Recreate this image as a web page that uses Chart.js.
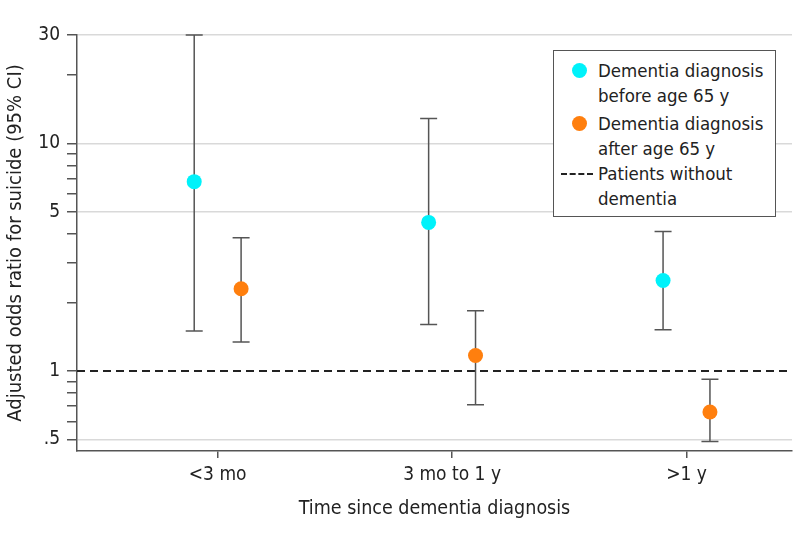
<!DOCTYPE html>
<html>
<head>
<meta charset="utf-8">
<script src="https://cdn.jsdelivr.net/npm/chart.js@4"></script>
<style>
  body { margin: 0; background: #fff; }
  #wrap { position: relative; width: 794px; height: 546px; }
  .legend {
    position: absolute; left: 553px; top: 50px; width: 223px; height: 167px;
    border: 1px solid #555; background: #fff; box-sizing: border-box;
    font-family: "DejaVu Sans Condensed", "Roboto", sans-serif;
    font-size: 18.5px; color: #222; line-height: 25px;
  }
  .item { position: absolute; left: 44px; }
  .dot { position: absolute; left: -26px; top: 5px; width: 15px; height: 15px; border-radius: 50%; }
  .dash { position: absolute; left: -37px; top: 12px; width: 32px; border-top: 2px dashed #222; }
</style>
</head>
<body>
<div id="wrap">
  <canvas id="chart" width="794" height="546"></canvas>
  <div class="legend">
    <div class="item" style="top:7px"><span class="dot" style="background:#00f2fa"></span>Dementia diagnosis<br>before age 65 y</div>
    <div class="item" style="top:60px"><span class="dot" style="background:#ff7f0e"></span>Dementia diagnosis<br>after age 65 y</div>
    <div class="item" style="top:110px"><span class="dash"></span>Patients without<br>dementia</div>
  </div>
</div>
<script>
const categories = ['<3 mo', '3 mo to 1 y', '>1 y']
const beforeOR = [6.8, 4.5, 2.5]
const beforeLow = [1.5, 1.6, 1.52]
const beforeHigh = [30, 12.9, 4.1]
const afterOR = [2.3, 1.17, 0.66]
const afterLow = [1.34, 0.71, 0.49]
const afterHigh = [3.85, 1.84, 0.92]
const yTicks = [0.5, 1, 5, 10, 30]
const yMinorTicks = [0.6, 0.7, 0.8, 0.9, 2, 3, 4, 6, 7, 8, 9, 20]
const gridValues = [0.5, 5, 10, 30]
const refValue = 1

const FONT = '"DejaVu Sans Condensed", "Roboto", sans-serif'
const offset = 0.1

const errorBars = {
    id: 'errorBars',
    beforeDatasetsDraw(chart) {
        const { ctx, chartArea, scales: { x, y } } = chart
        // reference line
        const yr = y.getPixelForValue(refValue)
        ctx.save()
        ctx.strokeStyle = '#222'
        ctx.lineWidth = 2
        ctx.setLineDash([8, 5])
        ctx.beginPath()
        ctx.moveTo(chartArea.left, yr)
        ctx.lineTo(chartArea.right, yr)
        ctx.stroke()
        ctx.setLineDash([])
        // whiskers
        const groups = [[beforeLow, beforeHigh, -offset], [afterLow, afterHigh, offset]]
        ctx.strokeStyle = '#555'
        ctx.lineWidth = 1.5
        groups.forEach(([lo, hi, dx]) => {
            categories.forEach((c, i) => {
                const px = x.getPixelForValue(i + dx)
                const p1 = y.getPixelForValue(lo[i])
                const p2 = y.getPixelForValue(hi[i])
                ctx.beginPath()
                ctx.moveTo(px, p1); ctx.lineTo(px, p2)
                ctx.moveTo(px - 8.5, p1); ctx.lineTo(px + 8.5, p1)
                ctx.moveTo(px - 8.5, p2); ctx.lineTo(px + 8.5, p2)
                ctx.stroke()
            })
        })
        ctx.restore()
    }
}

new Chart(document.getElementById('chart'), {
    type: 'scatter',
    data: {
        datasets: [
            {
                label: 'Dementia diagnosis before age 65 y',
                data: beforeOR.map((v, i) => ({ x: i - offset, y: v })),
                backgroundColor: '#00f2fa',
                borderWidth: 0,
                pointRadius: 7.5,
            },
            {
                label: 'Dementia diagnosis after age 65 y',
                data: afterOR.map((v, i) => ({ x: i + offset, y: v })),
                backgroundColor: '#ff7f0e',
                borderWidth: 0,
                pointRadius: 7.5,
            }
        ]
    },
    options: {
        responsive: false,
        animation: false,
        layout: { autoPadding: false, padding: { top: 35, right: 2, left: 0, bottom: 0 } },
        plugins: { legend: { display: false }, tooltip: { enabled: false } },
        scales: {
            x: {
                type: 'linear',
                min: -0.6,
                max: 2.45,
                afterBuildTicks: s => { s.ticks = categories.map((c, i) => ({ value: i })) },
                afterFit: s => { s.height = 95 },
                ticks: {
                    callback: v => categories[v],
                    font: { family: FONT, size: 19 },
                    color: '#222',
                    padding: 6,
                    maxRotation: 0,
                },
                grid: { drawOnChartArea: false, tickLength: 7, color: '#555', lineWidth: 1.5 },
                border: { color: '#555', width: 1.5 },
                title: {
                    display: true,
                    text: 'Time since dementia diagnosis',
                    font: { family: FONT, size: 19.5 },
                    color: '#222',
                    padding: { top: 0, bottom: 25 },
                },
            },
            y: {
                type: 'logarithmic',
                min: 0.445,
                max: 30,
                afterBuildTicks: s => {
                    s.ticks = yTicks.concat(yMinorTicks).sort((a, b) => a - b).map(v => ({ value: v }))
                },
                afterFit: s => { s.width = 77 },
                ticks: {
                    callback: v => yTicks.includes(v) ? (v === 0.5 ? '.5' : String(v)) : '',
                    font: { family: FONT, size: 19 },
                    color: '#222',
                    padding: 7,
                    autoSkip: false,
                },
                grid: {
                    color: c => gridValues.includes(c.tick.value) ? '#d9d9d9' : 'rgba(0,0,0,0)',
                    tickColor: '#555',
                    lineWidth: 1.5,
                    tickLength: 10,
                },
                border: { color: '#555', width: 1.5 },
                title: {
                    display: true,
                    text: 'Adjusted odds ratio for suicide (95% CI)',
                    font: { family: FONT, size: 20 },
                    color: '#222',
                    padding: { bottom: 4 },
                },
            }
        }
    },
    plugins: [errorBars]
})
</script>
</body>
</html>
